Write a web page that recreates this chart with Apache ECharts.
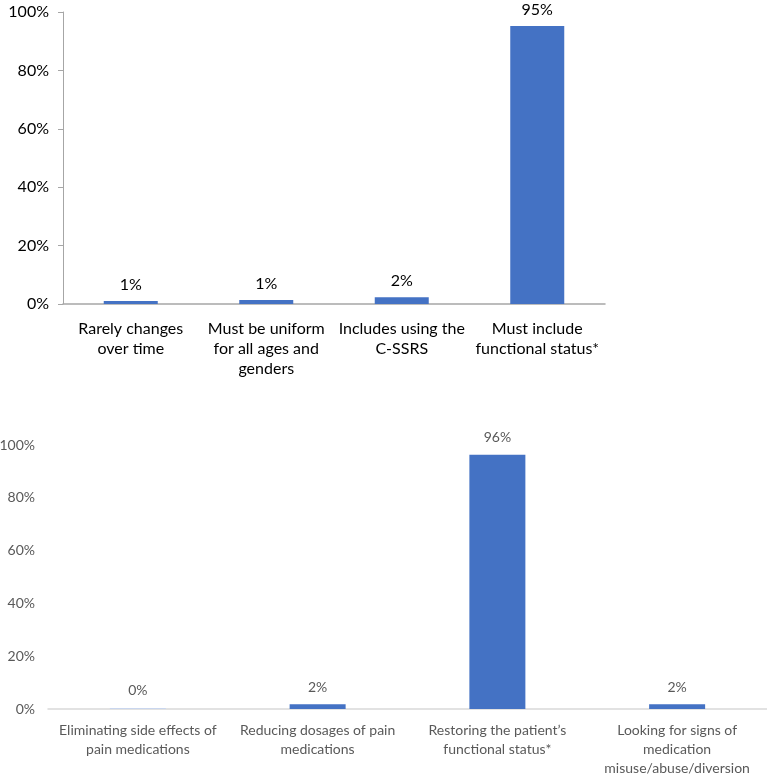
<!DOCTYPE html>
<html><head><meta charset="utf-8">
<script src="https://cdn.jsdelivr.net/npm/echarts@6/dist/echarts.min.js"></script>
<style>html,body{margin:0;padding:0;background:#fff}#c{width:767px;height:774px}</style>
</head><body><div id="c"></div>
<script>
const topCategories = ["Rarely changes\nover time", "Must be uniform\nfor all ages and\ngenders", "Includes using the\nC-SSRS", "Must include\nfunctional status*"];
const topValues = [1.0, 1.4, 2.3, 95.2];
const bottomCategories = ["Eliminating side effects of\npain medications", "Reducing dosages of pain\nmedications", "Restoring the patient\u2019s\nfunctional status*", "Looking for signs of\nmedication\nmisuse/abuse/diversion"];
const bottomValues = [0.4, 1.8, 96.3, 1.8];
const yTicks = [0, 20, 40, 60, 80, 100];

const FONT = "Lato";
const chart = echarts.init(document.getElementById('c'), null, {renderer: 'canvas'});
chart.setOption({
  animation: false,
  textStyle: {fontFamily: FONT},
  grid: [
    {left: 63, right: 162, top: 12, bottom: 470, outerBoundsMode: 'none', containLabel: false},
    {left: 48, right: 0, top: 445, bottom: 65, outerBoundsMode: 'none', containLabel: false}
  ],
  xAxis: [
    {gridIndex: 0, type: 'category', data: topCategories,
     axisLine: {lineStyle: {color: '#a6a6a6', width: 1.5}}, axisTick: {show: false},
     axisLabel: {interval: 0, color: '#000', fontSize: 16, lineHeight: 20, margin: 15, fontFamily: FONT}},
    {gridIndex: 1, type: 'category', data: bottomCategories,
     axisLine: {lineStyle: {color: '#d9d9d9', width: 1.5}}, axisTick: {show: false},
     axisLabel: {interval: 0, color: '#595959', fontSize: 14, lineHeight: 19, margin: 12, fontFamily: FONT}}
  ],
  yAxis: [
    {gridIndex: 0, type: 'value', min: yTicks[0], max: yTicks[yTicks.length-1], interval: 20,
     axisLine: {show: true, lineStyle: {color: '#a6a6a6', width: 1}},
     axisTick: {show: true, length: 5, lineStyle: {color: '#a6a6a6'}},
     splitLine: {show: false},
     axisLabel: {color: '#000', fontSize: 16, margin: 14, formatter: v => v + '%', fontFamily: FONT}},
    {gridIndex: 1, type: 'value', min: yTicks[0], max: yTicks[yTicks.length-1], interval: 20,
     axisLine: {show: false}, axisTick: {show: false}, splitLine: {show: false},
     axisLabel: {color: '#595959', fontSize: 14, margin: 13, formatter: v => v + '%', fontFamily: FONT}}
  ],
  series: [
    {type: 'bar', xAxisIndex: 0, yAxisIndex: 0, data: topValues, barWidth: 54,
     itemStyle: {color: '#4472c4'},
     label: {show: true, position: 'top', distance: 8, color: '#000', fontSize: 16, fontFamily: FONT,
             formatter: p => Math.round(p.value) + '%'}},
    {type: 'bar', xAxisIndex: 1, yAxisIndex: 1,
     data: bottomValues.map((v, i) => i === 0 ? {value: v, itemStyle: {color: '#c9d6ee'}} : v),
     barWidth: 56,
     itemStyle: {color: '#4472c4'},
     label: {show: true, position: 'top', distance: 10, color: '#595959', fontSize: 14, fontFamily: FONT,
             formatter: p => Math.round(p.value) + '%'}}
  ]
});
</script></body></html>
